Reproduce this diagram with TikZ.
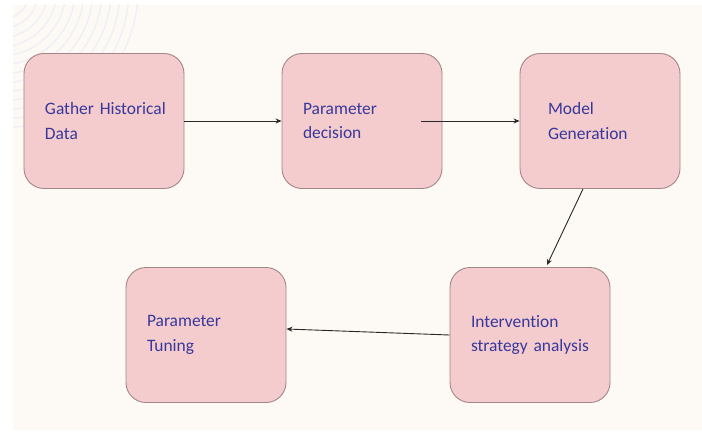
\documentclass[tikz,border=0pt]{standalone}
\usepackage{fontspec}
\setmainfont{Carlito}[Ligatures=NoCommon]
\usepackage{tikz}
\usetikzlibrary{arrows.meta,positioning,calc}
\usepackage{xcolor}
\definecolor{slidebg}{RGB}{253,250,245}
\definecolor{arcline}{RGB}{237,238,246}
\definecolor{stagefill}{RGB}{244,204,205}
\definecolor{stageedge}{RGB}{164,134,137}
\definecolor{stagetext}{RGB}{56,56,156}
\definecolor{flowline}{RGB}{40,40,40}
\tikzset{
  stage/.style = {draw=stageedge, fill=stagefill, line width=0.9bp,
                  rounded corners=20bp, minimum width=160bp, minimum height=135bp,
                  inner xsep=21bp, text width=118bp, align=left,
                  text=stagetext, font=\fontsize{17.5}{25}\selectfont},
  flow/.style  = {-{Stealth[length=6bp,width=5bp]}, line width=0.9bp, draw=flowline},
}

\begin{document}
\begin{tikzpicture}[x=1bp,y=1bp]
% slide background
\fill[white] (0,0) rectangle (702,432);
\fill[slidebg] (13,2) rectangle (702,427);
\begin{scope}
  \clip (13,2) rectangle (702,427);
  \foreach \r in {30,39,...,138}
    \draw[arcline,line width=1.2bp] (0,442) circle (\r);
\end{scope}

% stages
\node[stage] (hist) at (104,311) {\mbox{Gather Historical}\\Data};
\node[stage] (dec) at (362,311) {Parameter\\decision};
\node[stage,inner xsep=28bp,text width=104bp] (model) at (600,311) {Model\\Generation};
\node[stage] (interv) at (530,97) {Intervention\\\mbox{strategy analysis}};
\node[stage] (tune) at (206,97) {Parameter\\Tuning};

% connectors
\coordinate (decout) at ([xshift=-21bp]dec.east);
\coordinate (modelout) at ([xshift=-17bp]model.south);
\coordinate (intervin) at ([xshift=17bp,yshift=2bp]interv.north);
\coordinate (tunein) at ([yshift=6bp]tune.east);
\draw[flow] (hist) -- (dec);
\draw[flow] (decout) -- (model);
\draw[flow] (modelout) -- (intervin);
\draw[flow] (interv.west) -- (tunein);
\end{tikzpicture}
\end{document}
